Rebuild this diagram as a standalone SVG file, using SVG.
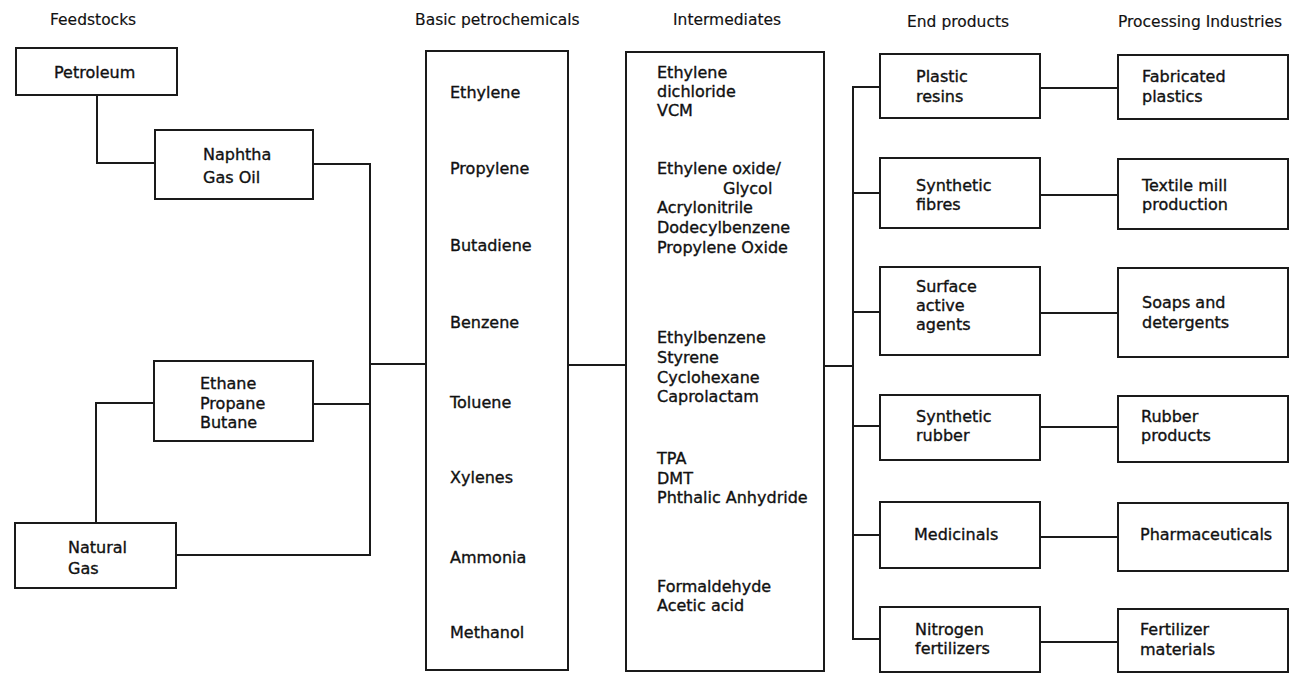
<svg xmlns="http://www.w3.org/2000/svg" width="1295" height="673" viewBox="0 0 1295 673">
<style>
.box{fill:#fff;stroke:#1a1a1a;stroke-width:2}
.ln{fill:none;stroke:#1a1a1a;stroke-width:2}
text{font-family:"DejaVu Sans","Liberation Sans",sans-serif;font-size:16px;fill:#111;stroke:#111;stroke-width:0.35}
.h{font-size:15.5px;stroke-width:0.15}
</style>
<rect width="1295" height="673" fill="#fff"/>
<g id="headers">
<text class="h" x="50" y="25">Feedstocks</text>
<text class="h" x="415" y="25">Basic petrochemicals</text>
<text class="h" x="673" y="25">Intermediates</text>
<text class="h" x="907" y="27">End products</text>
<text class="h" x="1118" y="27">Processing Industries</text>
</g>
<g id="connectors">
<polyline class="ln" points="97,95 97,163 155,163"/>
<polyline class="ln" points="313,164 370,164 370,555 176,555"/>
<line class="ln" x1="313" y1="404" x2="370" y2="404"/>
<polyline class="ln" points="154,403 96,403 96,523"/>
<line class="ln" x1="370" y1="364" x2="426" y2="364"/>
<line class="ln" x1="568" y1="365" x2="626" y2="365"/>
<line class="ln" x1="824" y1="366" x2="853" y2="366"/>
<polyline class="ln" points="880,87 853,87 853,639 880,639"/>
<line class="ln" x1="853" y1="193" x2="880" y2="193"/>
<line class="ln" x1="853" y1="312" x2="880" y2="312"/>
<line class="ln" x1="853" y1="426" x2="880" y2="426"/>
<line class="ln" x1="853" y1="535" x2="880" y2="535"/>
<line class="ln" x1="1040" y1="88" x2="1118" y2="88"/>
<line class="ln" x1="1040" y1="195" x2="1118" y2="195"/>
<line class="ln" x1="1040" y1="313" x2="1118" y2="313"/>
<line class="ln" x1="1040" y1="427" x2="1118" y2="427"/>
<line class="ln" x1="1040" y1="537" x2="1118" y2="537"/>
<line class="ln" x1="1040" y1="642" x2="1118" y2="642"/>
</g>
<g id="petroleum"><rect class="box" x="16" y="48" width="161" height="47"/><text x="54" y="78">Petroleum</text></g>
<g id="naphtha"><rect class="box" x="155" y="130" width="158" height="69"/><text x="203" y="160">Naphtha</text><text x="203" y="183">Gas Oil</text></g>
<g id="ethane"><rect class="box" x="154" y="361" width="159" height="80"/><text x="200" y="389">Ethane</text><text x="200" y="409">Propane</text><text x="200" y="428">Butane</text></g>
<g id="natural-gas"><rect class="box" x="15" y="523" width="161" height="65"/><text x="68" y="553">Natural</text><text x="68" y="574">Gas</text></g>
<g id="basic"><rect class="box" x="426" y="51" width="142" height="619"/>
<text x="450" y="98">Ethylene</text>
<text x="450" y="174">Propylene</text>
<text x="450" y="251">Butadiene</text>
<text x="450" y="328">Benzene</text>
<text x="450" y="408">Toluene</text>
<text x="450" y="483">Xylenes</text>
<text x="450" y="563">Ammonia</text>
<text x="450" y="638">Methanol</text>
</g>
<g id="intermediates"><rect class="box" x="626" y="52" width="198" height="619"/>
<text x="657" y="78">Ethylene</text>
<text x="657" y="97">dichloride</text>
<text x="657" y="116">VCM</text>
<text x="657" y="174">Ethylene oxide/</text>
<text x="723" y="194">Glycol</text>
<text x="657" y="213">Acrylonitrile</text>
<text x="657" y="233">Dodecylbenzene</text>
<text x="657" y="253">Propylene Oxide</text>
<text x="657" y="343">Ethylbenzene</text>
<text x="657" y="363">Styrene</text>
<text x="657" y="383">Cyclohexane</text>
<text x="657" y="402">Caprolactam</text>
<text x="657" y="464">TPA</text>
<text x="657" y="484">DMT</text>
<text x="657" y="503">Phthalic Anhydride</text>
<text x="657" y="592">Formaldehyde</text>
<text x="657" y="611">Acetic acid</text>
</g>
<g id="plastic-resins"><rect class="box" x="880" y="54" width="160" height="64"/><text x="916" y="82">Plastic</text><text x="916" y="102">resins</text></g>
<g id="synthetic-fibres"><rect class="box" x="880" y="158" width="160" height="70"/><text x="916" y="191">Synthetic</text><text x="916" y="210">fibres</text></g>
<g id="surface-active"><rect class="box" x="880" y="267" width="160" height="88"/><text x="916" y="292">Surface</text><text x="916" y="311">active</text><text x="916" y="330">agents</text></g>
<g id="synthetic-rubber"><rect class="box" x="880" y="395" width="160" height="65"/><text x="916" y="422">Synthetic</text><text x="916" y="441">rubber</text></g>
<g id="medicinals"><rect class="box" x="880" y="502" width="160" height="66"/><text x="914" y="540">Medicinals</text></g>
<g id="nitrogen-fertilizers"><rect class="box" x="880" y="607" width="160" height="65"/><text x="915" y="635">Nitrogen</text><text x="915" y="654">fertilizers</text></g>
<g id="fabricated-plastics"><rect class="box" x="1118" y="55" width="170" height="64"/><text x="1142" y="82">Fabricated</text><text x="1142" y="102">plastics</text></g>
<g id="textile"><rect class="box" x="1118" y="159" width="170" height="70"/><text x="1142" y="191">Textile mill</text><text x="1142" y="210">production</text></g>
<g id="soaps"><rect class="box" x="1118" y="268" width="170" height="89"/><text x="1142" y="308">Soaps and</text><text x="1142" y="328">detergents</text></g>
<g id="rubber-products"><rect class="box" x="1118" y="396" width="170" height="66"/><text x="1141" y="422">Rubber</text><text x="1141" y="441">products</text></g>
<g id="pharmaceuticals"><rect class="box" x="1118" y="503" width="170" height="68"/><text x="1140" y="540">Pharmaceuticals</text></g>
<g id="fertilizer-materials"><rect class="box" x="1118" y="609" width="170" height="63"/><text x="1140" y="635">Fertilizer</text><text x="1140" y="655">materials</text></g>
</svg>
